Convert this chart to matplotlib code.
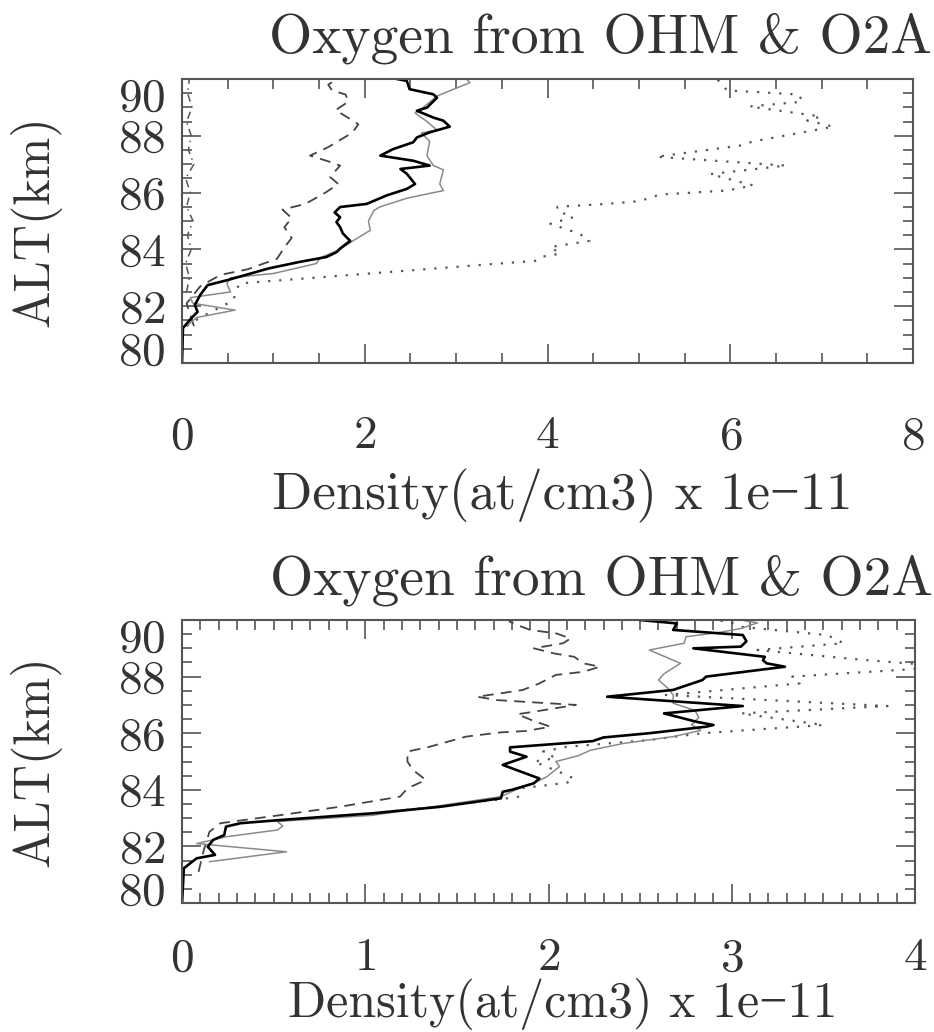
import matplotlib
matplotlib.use('Agg')
import matplotlib.pyplot as plt
from matplotlib.ticker import MultipleLocator
from matplotlib.transforms import ScaledTranslation

plt.rcParams['font.family'] = ['cmr10', 'Liberation Serif', 'DejaVu Serif']
plt.rcParams['axes.formatter.use_mathtext'] = True

TITLE = "Oxygen from OHM & O2A"
XLABEL = "Density(at/cm3) x 1e\u221211"
YLABEL = "ALT(km)"

# --- top panel (x 0-8) ---
top_black_alt = [80.0, 81.23, 81.57, 81.8, 82.04, 82.4, 82.74, 82.92, 83.33, 83.56, 83.73, 83.9, 84.03,
                 84.3, 84.56, 84.78, 84.96, 85.13, 85.3, 85.49, 85.6, 85.9, 86.13, 86.3, 86.66, 86.83,
                 86.95, 87.12, 87.3, 87.53, 87.77, 87.94, 88.12, 88.32, 88.53, 88.64, 88.88, 88.99,
                 89.34, 89.46, 89.64, 89.93, 90.0]
top_black = [0.0, 0.01, 0.1, 0.17, 0.14, 0.2, 0.28, 0.5, 0.95, 1.29, 1.58, 1.69, 1.73,
             1.84, 1.76, 1.73, 1.69, 1.73, 1.67, 1.73, 2.02, 2.24, 2.46, 2.55, 2.46, 2.39,
             2.71, 2.53, 2.17, 2.31, 2.53, 2.57, 2.71, 2.93, 2.86, 2.75, 2.57, 2.68,
             2.79, 2.75, 2.49, 2.46, 2.35]

top_grey_alt = [81.3, 81.6, 81.86, 82.1, 82.3, 82.5, 82.8, 83.0, 83.15, 83.5, 83.7, 84.0, 84.3,
                84.67, 85.0, 85.37, 85.5, 85.8, 86.07, 86.3, 86.8, 86.95, 87.3, 87.8, 88.1, 88.2,
                88.5, 88.8, 89.0, 89.4, 89.87, 90.0]
top_grey = [0.05, 0.16, 0.58, 0.12, 0.09, 0.53, 0.49, 0.53, 1.0, 1.47, 1.51, 1.73, 1.87,
            2.06, 2.04, 2.1, 2.17, 2.46, 2.86, 2.82, 2.86, 2.75, 2.68, 2.71, 2.62, 2.79,
            2.68, 2.55, 2.64, 2.79, 3.15, 3.11]

top_dash_alt = [81.3, 82.1, 82.7, 83.1, 83.3, 83.67, 84.07, 84.4, 84.78, 85.1, 85.4, 85.6, 86.0,
                86.3, 86.55, 86.95, 87.1, 87.3, 87.6, 88.1, 88.4, 88.55, 88.9, 89.2, 89.45, 89.6,
                89.8, 90.0]
top_dash = [0.13, 0.05, 0.2, 0.42, 0.72, 1.04, 1.12, 1.2, 1.12, 1.2, 1.1, 1.35, 1.57,
            1.71, 1.62, 1.73, 1.6, 1.4, 1.6, 1.86, 1.93, 1.86, 1.68, 1.82, 1.79, 1.64,
            1.6, 1.7]

top_dot_alt = [81.3, 81.6, 82.2, 82.6, 82.8, 83.6, 83.73, 83.85, 84.08, 84.3, 84.55, 84.9, 85.13,
               85.37, 85.5, 85.6, 85.7, 85.93, 86.07, 86.25, 86.65, 86.95, 87.26, 87.65, 87.8,
               88.32, 88.54, 88.68, 89.03, 89.2, 89.45, 89.6, 89.8, 90.0]
top_dot = [0.05, 0.2, 0.56, 0.6, 0.63, 3.88, 3.92, 4.14, 4.03, 4.46, 4.35, 4.03, 4.28,
           4.1, 4.11, 4.65, 5.01, 5.23, 5.96, 6.25, 5.78, 6.61, 5.19, 6.1, 6.25,
           7.13, 6.84, 6.99, 6.21, 6.79, 6.75, 5.96, 5.92, 5.85]

top_dashdot_alt = [82.5, 83.0, 83.5, 84.0, 84.5, 85.0, 85.5, 86.0, 86.5, 87.0, 87.5, 88.0,
                   88.5, 89.0, 89.5, 90.0]
top_dashdot = [0.05, 0.08, 0.04, 0.1, 0.06, 0.12, 0.05, 0.09, 0.04, 0.13, 0.07, 0.1,
               0.05, 0.11, 0.06, 0.08]

# --- bottom panel (x 0-4) ---
bot_black_alt = [80.0, 81.23, 81.58, 81.7, 81.99, 82.23, 82.4, 82.7, 82.82, 82.93, 83.17, 83.4,
                 83.7, 83.93, 84.0, 84.23, 84.4, 84.88, 85.17, 85.35, 85.5, 85.72, 85.85, 86.0,
                 86.23, 86.29, 86.4, 86.7, 86.96, 87.29, 87.53, 87.88, 88.0, 88.35, 88.47, 88.58,
                 88.7, 89.0, 89.06, 89.25, 89.47, 89.65, 89.88, 90.0]
bot_black = [0.0, 0.01, 0.08, 0.18, 0.14, 0.17, 0.23, 0.24, 0.32, 0.53, 1.04, 1.41,
             1.74, 1.75, 1.8, 1.92, 1.95, 1.75, 1.88, 1.79, 1.79, 2.24, 2.3, 2.55,
             2.86, 2.9, 2.81, 2.63, 3.06, 2.32, 2.68, 2.84, 2.86, 3.29, 3.19, 3.17,
             3.18, 2.79, 3.05, 3.08, 3.06, 2.68, 2.7, 2.5]

bot_grey_alt = [81.46, 81.81, 82.1, 82.34, 82.58, 82.72, 82.88, 83.1, 83.46, 83.76, 84.0, 84.33,
                84.46, 84.82, 85.0, 85.2, 85.4, 85.64, 85.88, 86.1, 86.3, 86.55, 86.8, 87.06,
                87.35, 87.6, 87.88, 88.1, 88.47, 88.94, 89.18, 89.41, 89.55, 89.7, 89.9, 90.0]
bot_grey = [0.15, 0.57, 0.08, 0.24, 0.52, 0.55, 0.52, 1.04, 1.43, 1.74, 1.82, 1.95,
            1.99, 2.06, 2.04, 2.16, 2.23, 2.41, 2.68, 2.83, 2.78, 2.82, 2.8, 2.68,
            2.68, 2.65, 2.6, 2.63, 2.72, 2.55, 2.74, 2.75, 2.92, 3.05, 3.14, 3.05]

bot_dash_alt = [81.1, 81.9, 82.52, 82.82, 83.1, 83.4, 83.76, 84.05, 84.35, 84.7, 85.0, 85.35,
                85.52, 85.88, 86.03, 86.08, 86.23, 86.43, 86.67, 86.76, 87.0, 87.09, 87.17,
                87.29, 87.41, 87.53, 87.76, 88.06, 88.17, 88.35, 88.47, 88.7, 88.82, 89.0,
                89.18, 89.35, 89.53, 89.65, 89.82, 89.94, 90.0]
bot_dash = [0.09, 0.12, 0.15, 0.21, 0.53, 0.86, 1.19, 1.23, 1.33, 1.26, 1.23, 1.23,
            1.35, 1.55, 1.74, 1.88, 2.01, 1.92, 1.83, 1.92, 2.15, 1.92, 1.72,
            1.61, 1.74, 1.86, 1.95, 2.04, 2.19, 2.28, 2.19, 2.14, 2.03, 1.92,
            2.08, 2.12, 2.04, 1.9, 1.83, 1.79, 1.78]

bot_dot_alt = [82.9, 83.17, 83.45, 83.65, 83.76, 84.06, 84.25, 84.4, 84.6, 85.0, 85.12, 85.35,
               85.52, 85.76, 86.0, 86.29, 86.7, 86.96, 87.35, 87.76, 88.0, 88.35, 88.59, 88.94,
               89.18, 89.47, 89.76, 89.94, 90.0]
bot_dot = [0.5, 1.04, 1.45, 1.72, 1.84, 1.86, 2.1, 2.14, 2.07, 1.92, 2.04, 1.97,
           2.1, 2.55, 2.84, 3.5, 3.05, 3.85, 2.64, 3.37, 3.33, 4.2, 3.72, 3.14,
           3.61, 3.52, 3.05, 2.99, 2.9]

TXT = '#333333'
AX = '#555555'


def style_axes(ax, xmax, xmajor, xminor, xpad):
    ax.set_xlim(0, xmax)
    ax.set_ylim(80, 90)
    ax.xaxis.set_major_locator(MultipleLocator(xmajor))
    ax.xaxis.set_minor_locator(MultipleLocator(xminor))
    ax.yaxis.set_major_locator(MultipleLocator(2))
    ax.yaxis.set_minor_locator(MultipleLocator(0.5))
    ax.tick_params(which='both', direction='in', top=True, right=True, color=AX, width=1.2)
    ax.tick_params(which='major', length=14)
    ax.tick_params(which='minor', length=7)
    ax.tick_params(axis='x', which='major', labelsize=34, pad=xpad, labelcolor=TXT)
    ax.tick_params(axis='y', which='major', labelsize=34, pad=12, labelcolor=TXT)
    for s in ax.spines.values():
        s.set_color(AX)
        s.set_linewidth(1.5)
    # first and last altitude labels sit a bit inside the axis range
    ticks = ax.yaxis.get_major_ticks()
    locs = ax.yaxis.get_majorticklocs()
    for tk, v in zip(ticks, locs):
        if abs(v - 90) < 1e-6:
            tk.label1.set_transform(tk.label1.get_transform() + ScaledTranslation(0, -0.15, ax.figure.dpi_scale_trans))
        if abs(v - 80) < 1e-6:
            tk.label1.set_transform(tk.label1.get_transform() + ScaledTranslation(0, 0.15, ax.figure.dpi_scale_trans))


def draw(ax, series):
    for x, alt, kw in series:
        ax.plot(x, alt, **kw)


fig = plt.figure(figsize=(9.34, 10.32), dpi=100)
ax1 = fig.add_axes([0.1949, 0.6483, 0.7827, 0.2752])
ax2 = fig.add_axes([0.1949, 0.1250, 0.7848, 0.2742])

black_kw = dict(color='black', lw=1.9)
grey_kw = dict(color='#8a8a8a', lw=1.1)
dash_kw = dict(color='#444444', lw=1.3, linestyle=(0, (6, 4)))
dot_kw = dict(color='#555555', lw=1.6, linestyle=(0, (1, 4)))
dashdot_kw = dict(color='#555555', lw=1.1, linestyle=(0, (5, 3, 1, 3)))

draw(ax1, [(top_dashdot, top_dashdot_alt, dashdot_kw),
           (top_dot, top_dot_alt, dot_kw),
           (top_dash, top_dash_alt, dash_kw),
           (top_grey, top_grey_alt, grey_kw),
           (top_black, top_black_alt, black_kw)])
draw(ax2, [(bot_dot, bot_dot_alt, dot_kw),
           (bot_dash, bot_dash_alt, dash_kw),
           (bot_grey, bot_grey_alt, grey_kw),
           (bot_black, bot_black_alt, black_kw)])

style_axes(ax1, 8, 2, 0.5, 38)
style_axes(ax2, 4, 1, 0.1, 25)

for ax, ttl_y, xl_y, xl_fs in [(ax1, 1.0915, -0.515, 38), (ax2, 1.09, -0.402, 36)]:
    ax.set_title(TITLE, x=0.572, y=ttl_y, pad=0, fontsize=40, color=TXT, va='baseline')
    ax.set_xlabel(XLABEL, fontsize=xl_fs, color=TXT, va='baseline')
    ax.xaxis.set_label_coords(0.52, xl_y)
    ax.set_ylabel(YLABEL, fontsize=36, color=TXT, va='center')
    ax.yaxis.set_label_coords(-0.20, 0.5)

fig.savefig('out.png', dpi=100)
